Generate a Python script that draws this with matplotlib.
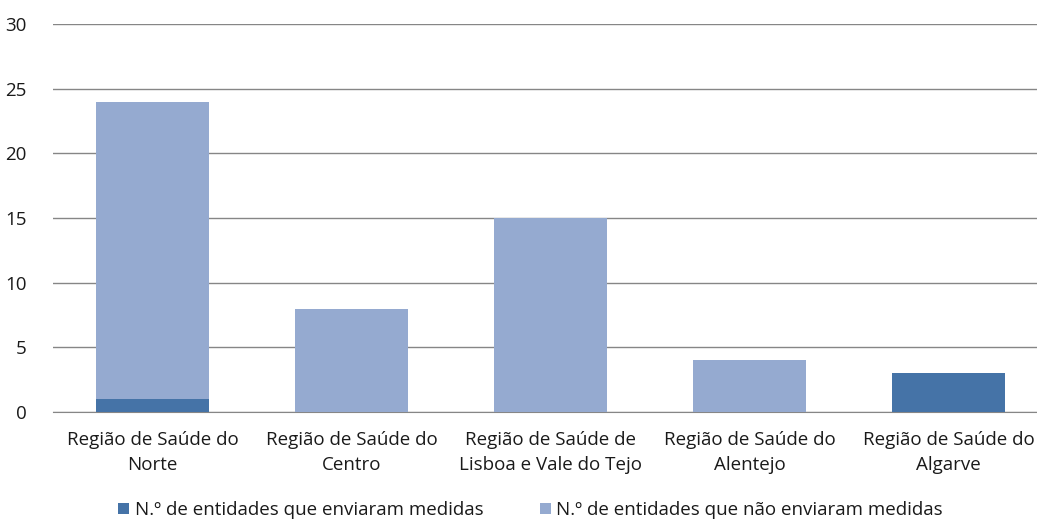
import matplotlib
matplotlib.use('Agg')
from matplotlib import pyplot as plt
import numpy as np

regioes = ['Região de Saúde do\nNorte', 'Região de Saúde do\nCentro',
           'Região de Saúde de\nLisboa e Vale do Tejo', 'Região de Saúde do\nAlentejo',
           'Região de Saúde do\nAlgarve']
enviaram = [1, 0, 0, 0, 3]
nao_enviaram = [23, 8, 15, 4, 0]
yticks = [0, 5, 10, 15, 20, 25, 30]

cor_escura = '#4573A7'
cor_clara = '#95AAD0'

plt.rcParams['font.family'] = ['Open Sans', 'DejaVu Sans']

fig = plt.figure(figsize=(10.37, 5.21), dpi=100)
ax = fig.add_axes([53/1037, 109/521, 995/1037, 388/521])

x = np.arange(len(regioes))
ax.bar(x, enviaram, width=0.57, color=cor_escura, label='N.º de entidades que enviaram medidas', zorder=3)
ax.bar(x, nao_enviaram, width=0.57, bottom=enviaram, color=cor_clara,
       label='N.º de entidades que não enviaram medidas', zorder=3)

ax.set_xlim(-0.5, len(regioes) - 0.5)
ax.set_ylim(0, 30)
ax.set_yticks(yticks)
ax.set_xticks(x)
ax.set_xticklabels(regioes, fontsize=13.5, color='#1a1a1a', linespacing=1.5)
ax.tick_params(axis='y', labelsize=13.5, labelcolor='#1a1a1a', length=0, pad=19)
ax.tick_params(axis='x', length=0, pad=14)
ax.yaxis.grid(True, color='#868686', linewidth=1, zorder=0)
for s in ['top', 'right', 'left']:
    ax.spines[s].set_visible(False)
ax.spines['bottom'].set_color('#868686')

leg = fig.legend(loc='lower left', bbox_to_anchor=(101/1037, -15/521), ncol=2, frameon=False,
                 fontsize=13.5, handlelength=0.6, handleheight=0.6, columnspacing=3.0,
                 handletextpad=0.3)
for t in leg.get_texts():
    t.set_color('#1a1a1a')

plt.savefig('out.png', dpi=100)
